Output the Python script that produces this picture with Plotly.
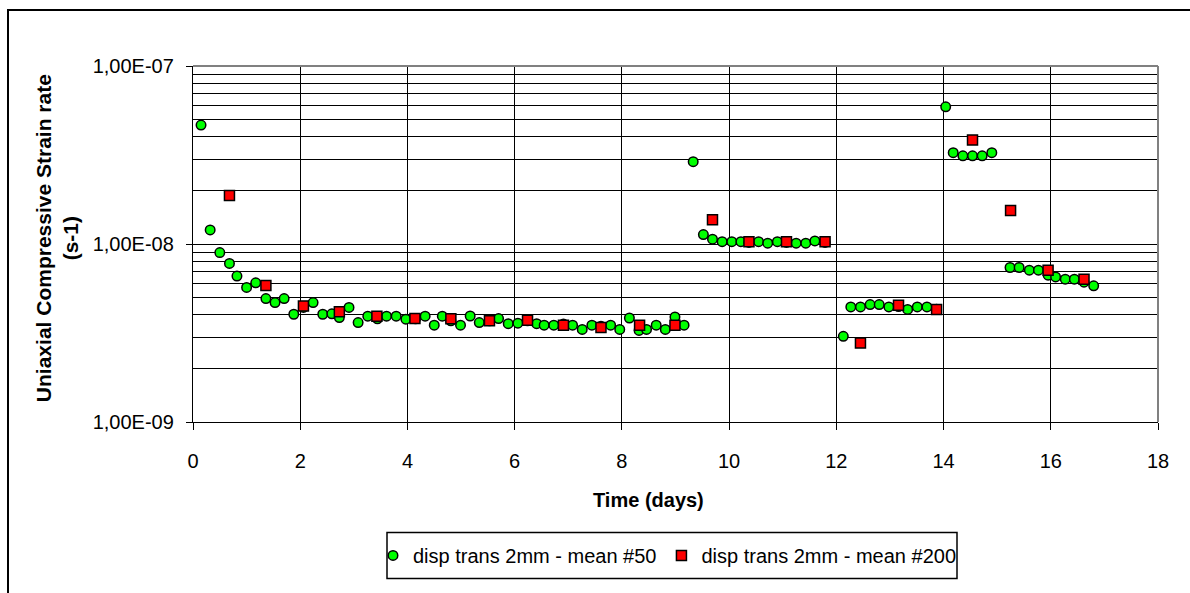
import plotly.graph_objects as go

# ---- data ----
green_x = [0.15, 0.32, 0.50, 0.68, 0.82, 1.00, 1.17, 1.36, 1.53, 1.70, 1.88, 2.06, 2.24, 2.42, 2.59,
           2.73, 2.91, 3.08, 3.26, 3.44, 3.61, 3.79, 3.97, 4.15, 4.33, 4.50, 4.65, 4.81, 4.99, 5.17,
           5.34, 5.53, 5.70, 5.88, 6.06, 6.24, 6.41, 6.55, 6.73, 6.91, 7.08, 7.26, 7.44, 7.61, 7.79,
           7.96, 8.14, 8.32, 8.46, 8.64, 8.81, 8.99, 9.16, 9.33, 9.52, 9.69, 9.87, 10.05, 10.22, 10.37,
           10.55, 10.72, 10.90, 11.07, 11.25, 11.43, 11.60, 11.79, 12.13, 12.27, 12.45, 12.63, 12.80,
           12.98, 13.16, 13.33, 13.51, 13.69, 13.87, 14.04, 14.18, 14.36, 14.54, 14.72, 14.90, 15.24,
           15.41, 15.60, 15.77, 15.95, 16.09, 16.27, 16.44, 16.62, 16.80]
green_y = [4.66e-8, 1.20e-8, 8.95e-9, 7.78e-9, 6.6e-9, 5.7e-9, 6.05e-9, 4.94e-9, 4.69e-9, 4.94e-9,
           4.03e-9, 4.4e-9, 4.69e-9, 4.03e-9, 4.05e-9, 3.86e-9, 4.4e-9, 3.62e-9, 3.93e-9, 3.8e-9,
           3.93e-9, 3.93e-9, 3.78e-9, 3.8e-9, 3.93e-9, 3.5e-9, 3.93e-9, 3.7e-9, 3.5e-9, 3.94e-9,
           3.62e-9, 3.7e-9, 3.81e-9, 3.57e-9, 3.59e-9, 3.7e-9, 3.57e-9, 3.5e-9, 3.5e-9, 3.55e-9,
           3.5e-9, 3.31e-9, 3.5e-9, 3.45e-9, 3.5e-9, 3.31e-9, 3.84e-9, 3.27e-9, 3.31e-9, 3.5e-9,
           3.31e-9, 3.89e-9, 3.5e-9, 2.9e-8, 1.13e-8, 1.065e-8, 1.03e-8, 1.03e-8, 1.03e-8, 1.02e-8,
           1.03e-8, 1.01e-8, 1.03e-8, 1.02e-8, 1.01e-8, 1.01e-8, 1.04e-8, 1.02e-8, 3.03e-9, 4.43e-9,
           4.43e-9, 4.57e-9, 4.57e-9, 4.43e-9, 4.45e-9, 4.29e-9, 4.43e-9, 4.43e-9, 4.3e-9, 5.9e-8,
           3.26e-8, 3.13e-8, 3.13e-8, 3.13e-8, 3.26e-8, 7.38e-9, 7.38e-9, 7.13e-9, 7.13e-9, 6.68e-9,
           6.53e-9, 6.34e-9, 6.34e-9, 6.1e-9, 5.82e-9]

red_x = [0.68, 1.36, 2.06, 2.73, 3.43, 4.14, 4.81, 5.53, 6.24, 6.91, 7.61, 8.33, 8.99, 9.69,
         10.37, 11.07, 11.79, 12.45, 13.16, 13.87, 14.54, 15.25, 15.95, 16.62]
red_y = [1.87e-8, 5.85e-9, 4.49e-9, 4.16e-9, 3.93e-9, 3.81e-9, 3.8e-9, 3.7e-9, 3.73e-9, 3.5e-9,
         3.4e-9, 3.5e-9, 3.5e-9, 1.37e-8, 1.03e-8, 1.03e-8, 1.03e-8, 2.78e-9, 4.53e-9, 4.29e-9,
         3.84e-8, 1.54e-8, 7.13e-9, 6.34e-9]

green_name = "disp trans 2mm - mean #50"
red_name = "disp trans 2mm - mean #200"

y_tickvals = [1e-9, 1e-8, 1e-7]
y_ticktext = ["1,00E-09", "1,00E-08", "1,00E-07"]
y_minor = [k * 10.0 ** e for e in (-9, -8) for k in range(2, 10)]
x_title = "Time (days)"
y_title = "Uniaxial Compressive Strain rate<br>(s-1)"

FONT = "Liberation Sans, Arial, sans-serif"

# ---- layout geometry (pixels) ----
W, H = 1190, 593
L, R, T, B = 193, 1158, 66, 421.7
pw, ph = R - L, B - T


def px(x):
    return (x - L) / pw


def py(y):
    return (B - y) / ph


fig = go.Figure()
fig.add_trace(go.Scatter(
    x=green_x, y=green_y, mode="markers", name=green_name,
    marker=dict(symbol="circle", size=9.5, color="#00FF00",
                line=dict(color="black", width=1.5))))
fig.add_trace(go.Scatter(
    x=red_x, y=red_y, mode="markers", name=red_name,
    marker=dict(symbol="square", size=10, color="#FF0000",
                line=dict(color="black", width=1.5))))

fig.update_layout(
    width=W, height=H,
    margin=dict(l=L, r=W - R, t=T, b=H - B, pad=0),
    paper_bgcolor="white", plot_bgcolor="white",
    font=dict(family=FONT, size=20, color="black"),
    showlegend=True,
    legend=dict(orientation="h", x=px(667), y=py(555), xanchor="center", yanchor="middle",
                borderwidth=0, bgcolor="rgba(0,0,0,0)",
                font=dict(family=FONT, size=20, color="black"),
                itemwidth=30, tracegroupgap=0),
    xaxis=dict(range=[0, 18], tick0=0, dtick=2, showgrid=True, gridcolor="black", gridwidth=1.3,
               showline=True, linecolor="black", linewidth=1.3, zeroline=False,
               ticks="outside", ticklen=7, tickcolor="black", tickwidth=1.3,
               ticklabelstandoff=14, tickfont=dict(family=FONT, size=20, color="black")),
    yaxis=dict(type="log", range=[-9, -7], tickvals=y_tickvals, ticktext=y_ticktext,
               showgrid=True, gridcolor="black", gridwidth=1.3,
               showline=True, linecolor="black", linewidth=1.3, zeroline=False,
               ticks="outside", ticklen=6, tickcolor="black", tickwidth=1.3,
               ticklabelstandoff=8, tickfont=dict(family=FONT, size=20, color="black"),
               minor=dict(tickvals=y_minor, showgrid=True, gridcolor="black", gridwidth=1.3,
                          ticks="")),
    shapes=[
        dict(type="line", xref="paper", yref="paper", x0=0, x1=1, y0=1, y1=1,
             line=dict(color="#808080", width=2), layer="above"),
        dict(type="line", xref="paper", yref="paper", x0=1, x1=1, y0=0, y1=1,
             line=dict(color="#808080", width=2), layer="above"),
        dict(type="rect", xref="paper", yref="paper", x0=px(8), x1=px(1205), y0=py(620), y1=py(10),
             line=dict(color="black", width=2), fillcolor="rgba(0,0,0,0)", layer="above"),
        # legend frame
        dict(type="rect", xref="paper", yref="paper", x0=px(387), x1=px(957), y0=py(578), y1=py(532),
             line=dict(color="black", width=1.5), fillcolor="rgba(0,0,0,0)", layer="above"),
    ],
    annotations=[
        dict(text="<b>" + x_title + "</b>", xref="paper", yref="paper", x=px(648), y=py(500),
             xanchor="center", yanchor="middle", showarrow=False,
             font=dict(family=FONT, size=20, color="black")),
        dict(text="<b>" + y_title.replace("<br>", "</b><br><b>") + "</b>", xref="paper", yref="paper",
             x=px(57), y=py(238), xanchor="center", yanchor="middle", showarrow=False,
             textangle=-90, font=dict(family=FONT, size=21, color="black")),
    ],
)

fig.write_html("out.html")
